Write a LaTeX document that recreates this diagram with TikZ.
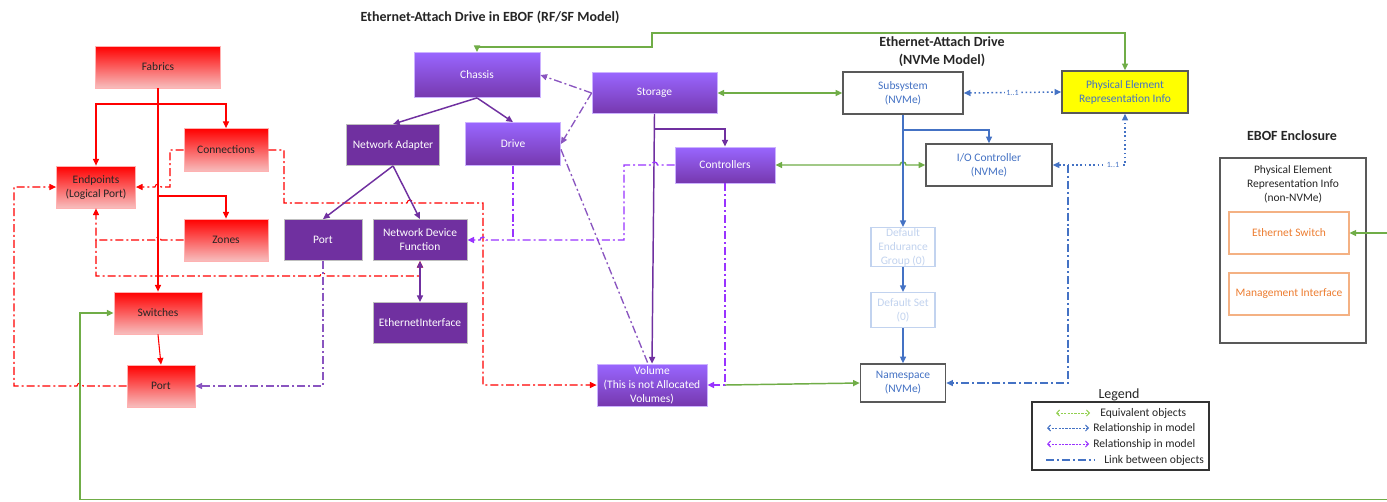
\documentclass[tikz,border=0pt]{standalone}
\usepackage{fontspec}
\setmainfont{Carlito}
\usetikzlibrary{arrows.meta}
\definecolor{cred}{HTML}{FF0000}
\definecolor{cpink}{HTML}{F7BEBE}
\definecolor{dpurp}{HTML}{7030A0}
\definecolor{lpurp}{HTML}{9966FF}
\definecolor{vpurp}{HTML}{9933FF}
\definecolor{mpurp}{HTML}{8A55C0}
\definecolor{cgreen}{HTML}{70AD47}
\definecolor{lgreen}{HTML}{92D050}
\definecolor{cblue}{HTML}{4472C4}
\definecolor{pblue}{HTML}{C2D3EF}
\definecolor{cgray}{HTML}{595959}
\definecolor{corange}{HTML}{ED7D31}
\definecolor{lorange}{HTML}{F4B183}
\definecolor{cyell}{HTML}{FFFF00}
\definecolor{ttl}{HTML}{262626}
\begin{document}
\begin{tikzpicture}[x=0.75pt,y=-0.75pt,
  sz/.style 2 args={minimum width={#1*0.75pt}, minimum height={#2*0.75pt}},
  base/.style={inner sep=0pt, align=center, font=\fontsize{8.6}{10.5}\selectfont},
  redbox/.style={base, draw=red!30, line width=0.6pt, top color=cred, bottom color=cpink, text=black!85},
  dbox/.style={base, draw=black!25, line width=0.6pt, fill=dpurp, text=white},
  gbox/.style={base, draw=lpurp!50!white, line width=0.6pt, top color=lpurp, bottom color=dpurp!85!lpurp, text=white},
  nbox/.style={base, draw=cgray, line width=1.2pt, fill=white, text=cblue},
  pbox/.style={base, draw=pblue, line width=0.8pt, fill=white, text=pblue},
  obox/.style={base, draw=lorange, line width=0.8pt, fill=white, text=corange},
  arrE/.style={-{Triangle[length=5pt,width=4.5pt]}},
  arrB/.style={{Triangle[length=5pt,width=4.5pt]}-{Triangle[length=5pt,width=4.5pt]}},
  dd/.style={dash pattern=on 6pt off 2.2pt on 1.5pt off 2.2pt},
  dotl/.style={dash pattern=on 1.2pt off 2pt},
  rl/.style={draw=cred, line width=0.8pt},
  pl/.style={draw=dpurp, line width=1.1pt},
  vl/.style={draw=vpurp, line width=1pt},
  ml/.style={draw=mpurp, line width=1pt},
  gl/.style={draw=cgreen, line width=1.1pt},
  bl/.style={draw=cblue, line width=1.1pt},
  ttlfont/.style={font=\bfseries\fontsize{10.5}{13.5}\selectfont, text=ttl, align=center},
  lgtext/.style={anchor=west, inner sep=0pt, font=\fontsize{8.7}{9.5}\selectfont, text=black!85},
]
\useasboundingbox (0,0) rectangle (1387,501);
\fill[white] (0,0) rectangle (1387,501);

% ---------------- titles
\node[ttlfont] (t1) at (490,17) {Ethernet-Attach Drive in EBOF (RF/SF Model)};
\node[ttlfont] (t2) at (942,52) {Ethernet-Attach Drive\\(NVMe Model)};
\node[ttlfont] (t3) at (1292,136) {EBOF Enclosure};

% ---------------- red nodes
\node[redbox, sz={125}{42}] (fab) at (158,67) {Fabrics};
\node[redbox, sz={84}{43}] (conn) at (226,150) {Connections};
\node[redbox, sz={79}{42}] (endp) at (96,187) {Endpoints\\(Logical Port)};
\node[redbox, sz={84}{42}] (zones) at (226,240) {Zones};
\node[redbox, sz={88}{42}] (sw) at (158,313) {Switches};
\node[redbox, sz={68}{42}] (rport) at (161,386) {Port};

% ---------------- purple nodes
\node[gbox, sz={126}{45}] (chassis) at (477,75) {Chassis};
\node[dbox, sz={93}{41}] (nadapt) at (393,145) {Network Adapter};
\node[gbox, sz={95}{43}] (drive) at (513,144) {Drive};
\node[gbox, sz={125}{41}] (storage) at (654.5,93) {Storage};
\node[gbox, sz={100}{36}] (ctrl) at (725,165) {Controllers};
\node[dbox, sz={78}{41}] (pport) at (323,240) {Port};
\node[dbox, sz={94}{41}] (ndf) at (420,240) {Network Device\\Function};
\node[dbox, sz={94}{41}] (eth) at (420,323) {EthernetInterface};
\node[gbox, sz={110}{42}] (vol) at (652,385) {Volume\\(This is not Allocated\\Volumes)};

% ---------------- NVMe nodes
\node[nbox, sz={120}{42}] (subsys) at (903,93) {Subsystem\\(NVMe)};
\node[nbox, sz={126}{42}, fill=cyell] (peri) at (1125,92) {Physical Element\\Representation Info};
\node[nbox, sz={126}{42}] (ioc) at (989,165) {I/O Controller\\(NVMe)};
\node[pbox, sz={64}{39}] (deg) at (903,247) {Default\\Endurance\\Group (0)};
\node[pbox, sz={64}{35}] (dset) at (903,310) {Default Set\\(0)};
\node[nbox, sz={85}{38}] (ns) at (903,383) {Namespace\\(NVMe)};

% ---------------- EBOF enclosure
\node[base, draw=cgray, line width=1.1pt, sz={146}{185}] (ebof) at (1293,250.5) {};
\node[base, text=black!85] (ebofl) at (1293,184) {Physical Element\\Representation Info\\(non-NVMe)};
\node[obox, sz={120}{42}] (ethsw) at (1289,233) {Ethernet Switch};
\node[obox, sz={120}{42}] (mgmt) at (1289,294) {Management Interface};

% ---------------- red solid connectors
\coordinate (ta) at (158,104);
\coordinate (tb) at (158,196);
\draw[rl, arrE] (fab.south) -- (sw.north);
\draw[rl, arrE] (ta) -| (endp.north);
\draw[rl, arrE] (ta) -| (conn.north);
\draw[rl, arrE] (tb) -| (zones.north);
\draw[rl, arrE] (sw.south) -- (rport.north);

% ---------------- red dash-dot connectors
\draw[rl, dd, arrE] (conn.west) -- (170,150) -- (170,187) -- (161,187)
   arc[start angle=0, end angle=-180, radius=3] -- (endp.east);
\draw[rl, dd, arrE] (conn.east) -- (284,150) -- (284,203) -- (407,203)
   arc[start angle=180, end angle=360, radius=3] -- (483,203) -- (483,385) -- (vol.west);
\draw[rl, dd, arrE] (rport.west) -- (83,386)
   arc[start angle=0, end angle=-180, radius=3] -- (14,386) -- (14,187) -- (endp.west);
\draw[rl, dd, arrE] (zones.west) -- (161,240)
   arc[start angle=0, end angle=-180, radius=3] -- (96,240) -- (endp.south);
\draw[rl, dd, arrE] (96,240) -- (96,276) -- (320,276)
   arc[start angle=180, end angle=360, radius=3] -- (420,276) -- (ndf.south);

% ---------------- purple solid connectors
\draw[pl, arrE] (chassis.south) -- (nadapt.north);
\draw[pl, arrE] (chassis.south) -- (drive.north);
\draw[pl, arrE] (nadapt.south) -- (pport.north);
\draw[pl, arrE] (nadapt.south) -- (ndf.north);
\draw[pl, arrB] (ndf.south) -- (eth.north);
\draw[pl, arrE] (storage.south) -- (vol.north);
\coordinate (sb) at (654.3,129);
\draw[pl, arrE] (sb) -| (ctrl.north);

% ---------------- purple dash-dot connectors
\draw[ml, dd, arrE] (storage.west) -- (chassis.east);
\draw[ml, dd, arrE] (storage.west) -- (drive.east);
\draw[ml, dd] ([yshift=-4pt]drive.east) -- ([xshift=-3pt]vol.north);
\draw[vl, dd, arrE] (ctrl.west) -- (657.5,165)
   arc[start angle=0, end angle=-180, radius=3] -- (624,165) -- (624,240) -- (486,240)
   arc[start angle=0, end angle=-180, radius=3] -- (ndf.east);
\draw[vl, dd] (drive.south) -- (513,240);
\draw[vl, dd, arrE] (ctrl.south) -- (725,385) -- (vol.east);
\draw[ml, dd, arrE] (pport.south) -- (323,386) -- (rport.east);

% ---------------- green connectors
\draw[gl, arrB] (storage.east) -- (subsys.west);
\draw[gl, arrB] (ctrl.east) -- (900,165)
   arc[start angle=180, end angle=360, radius=3] -- (ioc.west);
\coordinate (vc) at (725,385);
\draw[gl, arrE] (vc) -- (ns.west);
\draw[gl, arrB] (chassis.north) -- (477,47) -- (652,47) -- (652,33) -- (1125,33) -- (peri.north);
\coordinate (eb) at (1390,499.5);
\draw[gl, arrE] (eb) -- (80,499.5) -- (80,313) -- (sw.west);
\coordinate (er) at (1390,233);
\draw[gl, arrE] (er) -- (ethsw.east);

% ---------------- blue connectors
\draw[bl, arrE] (subsys.south) -- (deg.north);
\coordinate (bb) at (903,130);
\draw[bl, arrE] (bb) -| (ioc.north);
\draw[bl, arrE] (deg.south) -- (dset.north);
\draw[bl, arrE] (dset.south) -- (ns.north);
\draw[bl, dotl, arrB] (subsys.east) -- node[fill=white, inner sep=1pt, text=cblue, font=\fontsize{6}{7}\selectfont] {1..1} (peri.west);
\draw[bl, dotl, arrB] (ioc.east) -- (1125,165) -- (peri.south);
\node[fill=white, inner sep=1pt, text=cblue, font=\fontsize{6}{7}\selectfont] (l11) at (1113,165) {1..1};
\coordinate (bd) at (1068,165);
\draw[bl, dd, arrE] (bd) -- (1068,383) -- (ns.east);

% ---------------- legend
\node[font=\fontsize{10.5}{12}\selectfont, text=black!85] (lgt) at (1119,395) {Legend};
\node[draw=black!80, line width=0.8pt, minimum width={177*0.75pt}, minimum height={68*0.75pt}, inner sep=0pt] (lgbox) at (1120.5,436) {};
\draw[lgreen, line width=0.7pt, dash pattern=on 1.6pt off 1pt, {Straight Barb[length=2.2pt,width=4.5pt]}-{Straight Barb[length=2.2pt,width=4.5pt]}] (1056,413) -- (1090,413);
\node[lgtext] (lg1) at (1100,413) {Equivalent objects};
\draw[cblue, line width=0.7pt, dash pattern=on 1.6pt off 1pt, {Straight Barb[length=2.2pt,width=4.5pt]}-{Straight Barb[length=2.2pt,width=4.5pt]}] (1047,428) -- (1089,428);
\node[lgtext] (lg2) at (1093,428) {Relationship in model};
\draw[vpurp, line width=0.7pt, dash pattern=on 1.6pt off 1pt, {Straight Barb[length=2.2pt,width=4.5pt]}-{Straight Barb[length=2.2pt,width=4.5pt]}] (1047,444) -- (1089,444);
\node[lgtext] (lg3) at (1093,444) {Relationship in model};
\draw[cblue, line width=0.9pt, dd] (1046,460) -- (1094,460);
\node[lgtext] (lg4) at (1104,460) {Link between objects};
\end{tikzpicture}
\end{document}
